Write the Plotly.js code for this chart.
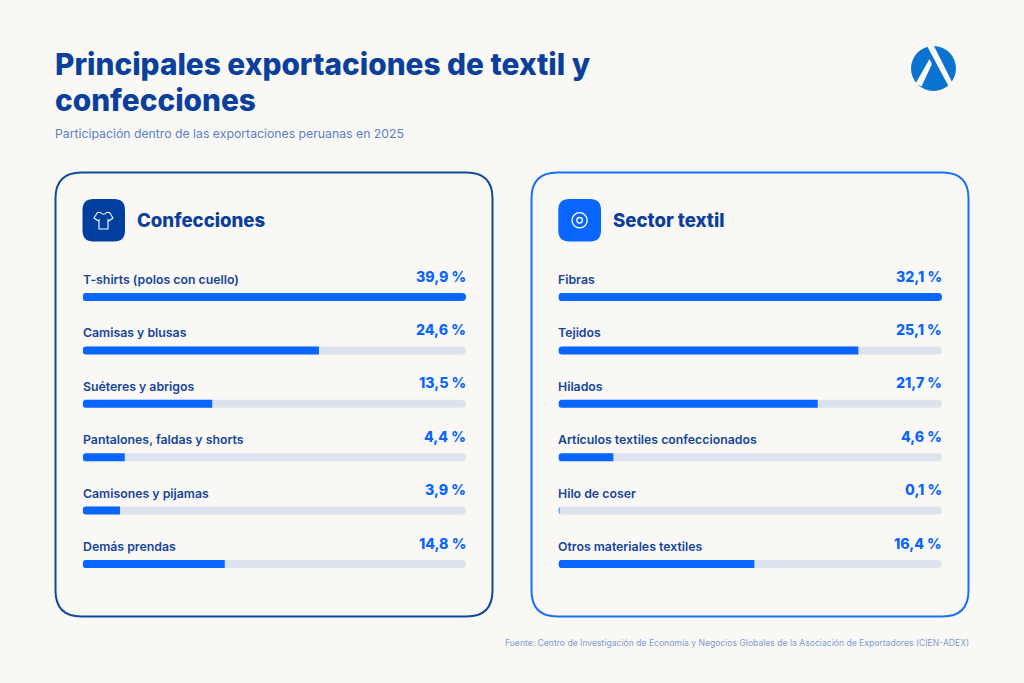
<!DOCTYPE html>
<html><head><meta charset="utf-8">
<script src="https://cdn.plot.ly/plotly-3.0.1.min.js"></script>
<style>html,body{margin:0;padding:0;background:#faf8f5}#c{width:1024px;height:683px}</style>
</head><body><div id="c"></div>
<script>
const confeccionesCats = ["T-shirts (polos con cuello)","Camisas y blusas","Suéteres y abrigos","Pantalones, faldas y shorts","Camisones y pijamas","Demás prendas"];
const confeccionesVals = [39.9,24.6,13.5,4.4,3.9,14.8];
const textilCats = ["Fibras","Tejidos","Hilados","Artículos textiles confeccionados","Hilo de coser","Otros materiales textiles"];
const textilVals = [32.1,25.1,21.7,4.6,0.1,16.4];

const W=1024,H=683;
const FONT="Inter, 'Noto Sans', sans-serif";
const NAVY="#0a3f9c", BLUE="#0866ff", TRACK="#dde3ee", BG="#faf8f5";
const px=x=>x/W, py=y=>1-y/H;
const fmt=v=>v.toFixed(1).replace('.',',')+' %';

function pathOf(cmds){
  return cmds.map(c=>{
    const [k,...a]=c;
    if(k==='Z')return 'Z';
    let s=k;for(let i=0;i<a.length;i+=2){s+=(i?' ':'')+px(a[i])+','+py(a[i+1]);}
    return s;
  }).join(' ');
}
function rr(x0,y0,x1,y1,r){
  return pathOf([['M',x0+r,y0],['L',x1-r,y0],['Q',x1,y0,x1,y0+r],['L',x1,y1-r],['Q',x1,y1,x1-r,y1],['L',x0+r,y1],['Q',x0,y1,x0,y1-r],['L',x0,y0+r],['Q',x0,y0,x0+r,y0],['Z']]);
}
const shp=(path,fill,line,w,layer)=>({type:'path',xref:'paper',yref:'paper',path,fillcolor:fill||'rgba(0,0,0,0)',line:{color:line||'rgba(0,0,0,0)',width:w||0},layer:layer||'below'});
const circ=(cx,cy,r,fill,line,w)=>({type:'circle',xref:'paper',yref:'paper',x0:px(cx-r),x1:px(cx+r),y0:py(cy+r),y1:py(cy-r),fillcolor:fill||'rgba(0,0,0,0)',line:{color:line||'rgba(0,0,0,0)',width:w||0},layer:'above'});

const shapes=[
  shp(rr(55.5,172.5,492.5,616.5,26),null,'#0f4a9e',2),
  shp(rr(531.5,172.5,968.5,616.5,26),null,'#1a6ffa',2),
  shp(rr(82.5,199,125,241.5,11),'#003f9e'),
  shp(rr(558.3,199,601,241.5,11),BLUE),
  shp(pathOf([['M',97.5,212.5],['L',94,218],['L',98,220.8],['L',99,219.8],['L',99,229],['L',108,229],['L',108,219.8],['L',109,220.8],['L',113,218],['L',109.5,212.5],['L',106.5,212.5],['Q',103.5,216,100.5,212.5],['Z']]),null,'#ffffff',1.1,'above'),
  circ(579.6,220.3,7.6,null,'#ffffff',1.3),
  circ(579.6,220.3,2.8,null,'#ffffff',1.3),
  circ(933.5,68.5,22.5,'#0a72d0'),
  shp(pathOf([['M',926,44],['L',933,44],['L',954,86],['L',949.5,88],['Z']]),BG,null,0,'above'),
  shp(pathOf([['M',929.5,59],['L',932,64],['L',921.5,86.5],['L',915.5,83.5],['Z']]),BG,null,0,'above')
];
// round the left ends of the bars (plotly only rounds the tip)
[82.5,558.3].forEach(x0=>{
  for(let i=0;i<6;i++){
    const c=270.3+53.4*(i+0.5),r=4;
    shapes.push(shp(pathOf([['M',x0-0.5,c-r-0.5],['L',x0+r,c-r-0.5],['Q',x0,c-r,x0,c],['Q',x0,c+r,x0+r,c+r+0.5],['L',x0-0.5,c+r+0.5],['Z']]),BG,null,0,'above'));
  }
});

function panel(cats,vals,xa,ya){
  const max=Math.max(...vals);
  const base={type:'bar',orientation:'h',width:0.15,xaxis:xa,yaxis:ya,hoverinfo:'skip',showlegend:false};
  return {
    traces:[
      Object.assign({},base,{x:cats.map(()=>max),y:cats.map((_,i)=>i),marker:{color:TRACK}}),
      Object.assign({},base,{x:vals,y:cats.map((_,i)=>i),marker:{color:BLUE}})
    ],
    notes:cats.flatMap((c,i)=>[
      {xref:xa,yref:ya,x:0,y:i,xshift:-2,yshift:17.5,xanchor:'left',yanchor:'middle',showarrow:false,text:c,font:{family:FONT,size:12.3,color:'#15459a',weight:600}},
      {xref:xa,yref:ya,x:max,y:i,xshift:2,yshift:21,xanchor:'right',yanchor:'middle',showarrow:false,text:fmt(vals[i]),font:{family:FONT,size:14.2,color:BLUE,weight:800}}
    ])
  };
}
const L=panel(confeccionesCats,confeccionesVals,'x','y');
const R=panel(textilCats,textilVals,'x2','y2');

const txt=(t,x,y,size,color,weight,anchor)=>({xref:'paper',yref:'paper',x:px(x),y:py(y),xshift:anchor==='right'?2:-2,xanchor:anchor||'left',yanchor:'middle',showarrow:false,text:t,font:{family:FONT,size,color,weight}});

const hiddenY={range:[5.5,-0.5],domain:[py(590.7),py(270.3)],showgrid:false,zeroline:false,showticklabels:false,ticks:'',showline:false,fixedrange:true};
const hiddenX=(a,b,m)=>({range:[0,m],domain:[px(a),px(b)],showgrid:false,zeroline:false,showticklabels:false,ticks:'',showline:false,fixedrange:true});

const layout={
  width:W,height:H,margin:{l:0,r:0,t:0,b:0,pad:0},
  paper_bgcolor:BG,plot_bgcolor:'rgba(0,0,0,0)',
  barmode:'overlay',barcornerradius:4,
  font:{family:FONT},
  title:{text:'Principales exportaciones de textil y',x:px(55),xanchor:'left',y:py(65),yanchor:'middle',xref:'paper',yref:'paper',font:{family:FONT,size:29.8,color:NAVY,weight:800}},
  xaxis:hiddenX(82.5,466,Math.max(...confeccionesVals)),
  xaxis2:Object.assign(hiddenX(558.3,942,Math.max(...textilVals)),{anchor:'y2'}),
  yaxis:hiddenY,
  yaxis2:Object.assign({},hiddenY,{anchor:'x2'}),
  shapes,
  annotations:[
    txt('confecciones',55,100,29.8,NAVY,800),
    txt('Participación dentro de las exportaciones peruanas en 2025',55,133,12.25,'#5a80c6',400),
    txt('Confecciones',137,220,18.6,NAVY,800),
    txt('Sector textil',613,220,18.6,NAVY,800),
    txt('Fuente: Centro de Investigación de Economía y Negocios Globales de la Asociación de Exportadores (CIEN-ADEX)',969,643,8.6,'#7f9bd0',400,'right')
  ].concat(L.notes,R.notes)
};
Plotly.newPlot('c',[...L.traces,...R.traces],layout,{displayModeBar:false,staticPlot:true});
</script></body></html>
